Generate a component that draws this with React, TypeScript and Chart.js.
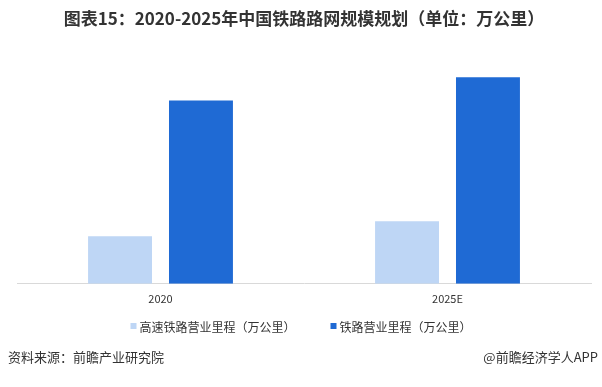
import { useEffect, useRef } from "react";
import { Chart, registerables } from "chart.js";

Chart.register(...registerables);

const categories = ["2020", "2025E"];
const highSpeedKm = [3.79, 5.0];
const railwayKm = [14.63, 16.5];
const seriesNames = ["高速铁路营业里程（万公里）", "铁路营业里程（万公里）"];
const seriesColors = ["#BED6F5", "#1F6AD4"];
const titleText = "图表15：2020-2025年中国铁路路网规模规划（单位：万公里）";
const sourceText = "资料来源：前瞻产业研究院";
const brandText = "@前瞻经济学人APP";

const FONT = '"Noto Sans CJK SC", "Noto Sans", sans-serif';

const extrasPlugin = {
  id: "extras",
  afterDraw(chart: any) {
    const ctx = chart.ctx as CanvasRenderingContext2D;
    const W = chart.width;
    ctx.save();
    // legend
    ctx.font = `12px ${FONT}`;
    ctx.textBaseline = "middle";
    ctx.textAlign = "left";
    const box = 6;
    const gapBoxText = 3;
    const gapItems = 35;
    const ds = chart.data.datasets;
    const widths = ds.map((d: any) => box + gapBoxText + ctx.measureText(d.label).width);
    const total = widths.reduce((a: number, b: number) => a + b, 0) + gapItems * (ds.length - 1);
    let x = W / 2 - total / 2;
    const ly = 327;
    ds.forEach((d: any, i: number) => {
      ctx.fillStyle = d.backgroundColor;
      ctx.fillRect(x, ly - box / 2 - 1, box, box);
      ctx.fillStyle = "#333333";
      ctx.fillText(d.label, x + box + gapBoxText, ly);
      x += widths[i] + gapItems;
    });
    // footer
    ctx.font = `13px ${FONT}`;
    ctx.fillStyle = "#333333";
    ctx.textAlign = "left";
    ctx.fillText(sourceText, 8, 357);
    ctx.textAlign = "right";
    ctx.fillText(brandText, W - 4, 357);
    ctx.restore();
  },
};

export default function App() {
  const ref = useRef<HTMLCanvasElement | null>(null);
  useEffect(() => {
    if (!ref.current) return;
    const chart = new Chart(ref.current, {
      type: "bar",
      data: {
        labels: categories,
        datasets: [
          {
            label: seriesNames[0],
            data: highSpeedKm,
            backgroundColor: seriesColors[0],
            categoryPercentage: 0.564,
            barPercentage: 0.79,
          },
          {
            label: seriesNames[1],
            data: railwayKm,
            backgroundColor: seriesColors[1],
            categoryPercentage: 0.564,
            barPercentage: 0.79,
          },
        ],
      },
      options: {
        responsive: false,
        animation: false,
        layout: { padding: { left: 17, right: 11, top: 0, bottom: 74 } },
        plugins: {
          legend: { display: false },
          tooltip: { enabled: false },
          title: {
            display: true,
            text: titleText,
            color: "#333333",
            font: { family: FONT, size: 17, weight: "bold" },
            padding: { top: 8, bottom: 30 },
          },
        },
        scales: {
          x: {
            grid: { display: false, drawTicks: false },
            border: { display: true, color: "#D9D9D9", width: 1 },
            ticks: { color: "#333333", font: { family: FONT, size: 11 }, padding: 8 },
          },
          y: {
            display: false,
            min: 0,
            max: 18,
          },
        },
      },
      plugins: [extrasPlugin],
    });
    return () => chart.destroy();
  }, []);
  return (
    <div style={{ position: "absolute", left: 0, top: 0, width: 602, height: 387, background: "#fff" }}>
      <canvas ref={ref} width={602} height={387} style={{ width: 602, height: 387 }} />
    </div>
  );
}
